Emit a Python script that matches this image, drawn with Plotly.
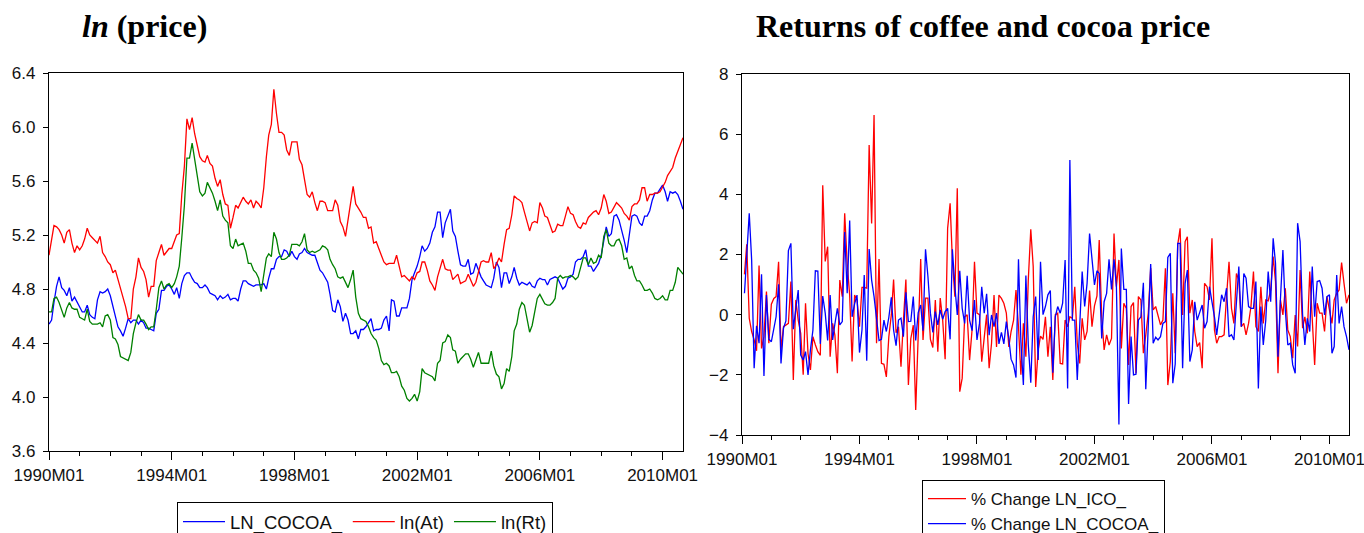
import pandas as pd
import plotly.graph_objects as go

# ---------------- data ----------------
start_month = "1990-01-01"
n_months = 249
months = pd.date_range(start_month, periods=n_months, freq="MS")

tick_labels = ["1990M01", "1994M01", "1998M01", "2002M01", "2006M01", "2010M01"]

ln_cocoa = [
    4.54, 4.57, 4.70, 4.82, 4.89, 4.81, 4.79, 4.75, 4.81, 4.71, 4.74, 4.70,
    4.66, 4.63, 4.63, 4.68, 4.61, 4.59, 4.58, 4.72, 4.78, 4.77, 4.78, 4.80,
    4.75, 4.67, 4.60, 4.52, 4.49, 4.45, 4.51, 4.58, 4.55, 4.57, 4.57, 4.54,
    4.57, 4.55, 4.51, 4.51, 4.50, 4.49, 4.62, 4.65, 4.79, 4.79, 4.82, 4.83,
    4.80, 4.76, 4.81, 4.73, 4.84, 4.90, 4.92, 4.92, 4.88, 4.85, 4.84, 4.81,
    4.81, 4.83, 4.81, 4.77, 4.76, 4.75, 4.72, 4.75, 4.73, 4.74, 4.76, 4.72,
    4.73, 4.73, 4.71, 4.80, 4.86, 4.86, 4.84, 4.83, 4.82, 4.83, 4.83, 4.83,
    4.84, 4.80, 4.88, 4.95, 4.95, 5.02, 5.04, 5.04, 5.09, 5.08, 5.04, 5.08,
    5.04, 5.02, 5.06, 5.07, 5.10, 5.07, 5.06, 5.05, 5.05, 5.00, 4.94, 4.92,
    4.89, 4.85, 4.76, 4.64, 4.63, 4.72, 4.67, 4.56, 4.62, 4.57, 4.47, 4.47,
    4.49, 4.43, 4.50, 4.50, 4.52, 4.55, 4.58, 4.49, 4.50, 4.50, 4.51, 4.57,
    4.60, 4.49, 4.72, 4.71, 4.60, 4.60, 4.66, 4.66, 4.66, 4.73, 4.87, 4.92,
    4.97, 5.04, 5.12, 5.08, 5.10, 5.14, 5.22, 5.26, 5.37, 5.37, 5.18, 5.29,
    5.34, 5.39, 5.23, 5.19, 5.08, 4.98, 4.97, 4.97, 5.02, 4.91, 4.92, 4.99,
    4.94, 4.89, 4.86, 4.83, 4.82, 4.81, 4.88, 5.00, 4.96, 4.81, 4.92, 4.92,
    4.84, 4.89, 4.96, 4.88, 4.83, 4.85, 4.84, 4.83, 4.85, 4.82, 4.81, 4.86,
    4.88, 4.87, 4.87, 4.83, 4.87, 4.88, 4.89, 4.88, 4.84, 4.80, 4.82, 4.88,
    4.89, 4.91, 5.00, 5.02, 5.02, 5.04, 5.09, 4.97, 4.97, 4.93, 4.96, 4.99,
    5.05, 5.16, 5.26, 5.19, 5.21, 5.34, 5.35, 5.31, 5.24, 5.16, 5.07, 5.22,
    5.34, 5.35, 5.34, 5.29, 5.27, 5.34, 5.34, 5.38, 5.46, 5.51, 5.51, 5.54,
    5.57, 5.52, 5.45, 5.52, 5.51, 5.52, 5.50, 5.45, 5.39,
]

ln_at = [
    5.05, 5.18, 5.27, 5.26, 5.24, 5.20, 5.14, 5.22, 5.24, 5.14, 5.07, 5.12,
    5.09, 5.12, 5.17, 5.25, 5.20, 5.18, 5.16, 5.14, 5.19, 5.07, 5.04, 5.00,
    4.98, 4.92, 4.94, 4.87, 4.79, 4.74, 4.67, 4.58, 4.58, 4.80, 4.89, 5.03,
    4.96, 4.93, 4.87, 4.74, 4.82, 4.82, 5.01, 5.07, 5.13, 5.05, 5.08, 5.10,
    5.10, 5.16, 5.20, 5.21, 5.50, 5.71, 6.06, 5.98, 6.07, 5.95, 5.85, 5.78,
    5.75, 5.74, 5.79, 5.73, 5.71, 5.62, 5.56, 5.61, 5.50, 5.43, 5.42, 5.25,
    5.33, 5.42, 5.40, 5.44, 5.48, 5.45, 5.43, 5.46, 5.40, 5.45, 5.43, 5.40,
    5.55, 5.78, 5.94, 6.02, 6.28, 6.10, 5.96, 5.96, 5.94, 5.83, 5.79, 5.89,
    5.89, 5.89, 5.76, 5.72, 5.61, 5.50, 5.48, 5.52, 5.44, 5.38, 5.45, 5.45,
    5.44, 5.38, 5.38, 5.38, 5.46, 5.42, 5.30, 5.26, 5.19, 5.31, 5.46, 5.56,
    5.43, 5.40, 5.37, 5.33, 5.33, 5.25, 5.26, 5.14, 5.15, 5.10, 5.05, 5.00,
    4.98, 4.99, 4.99, 4.99, 5.05, 4.96, 4.89, 4.90, 4.88, 4.86, 4.89, 4.87,
    4.92, 4.93, 5.00, 5.00, 4.94, 4.86, 4.83, 4.79, 4.89, 4.96, 5.02, 4.95,
    4.94, 4.94, 4.87, 4.89, 4.91, 4.84, 4.85, 4.86, 4.91, 4.86, 4.82, 4.85,
    4.93, 5.00, 5.01, 5.00, 5.00, 5.07, 4.95, 4.98, 5.03, 5.00, 5.13, 5.24,
    5.25, 5.35, 5.49, 5.47, 5.46, 5.44, 5.37, 5.30, 5.23, 5.29, 5.30, 5.29,
    5.44, 5.40, 5.34, 5.33, 5.28, 5.22, 5.23, 5.28, 5.27, 5.27, 5.34, 5.41,
    5.36, 5.35, 5.30, 5.26, 5.25, 5.29, 5.28, 5.33, 5.35, 5.37, 5.38, 5.35,
    5.40, 5.50, 5.45, 5.36, 5.37, 5.41, 5.44, 5.42, 5.40, 5.36, 5.34, 5.31,
    5.41, 5.43, 5.43, 5.46, 5.55, 5.55, 5.45, 5.50, 5.50, 5.51, 5.51, 5.52,
    5.55, 5.59, 5.64, 5.67, 5.70, 5.77, 5.82, 5.87, 5.92,
]

ln_rt = [
    4.63, 4.63, 4.73, 4.74, 4.70, 4.64, 4.59, 4.66, 4.70, 4.66, 4.65, 4.65,
    4.59, 4.58, 4.57, 4.65, 4.56, 4.54, 4.54, 4.54, 4.55, 4.52, 4.60, 4.61,
    4.57, 4.44, 4.43, 4.39, 4.30, 4.29, 4.28, 4.27, 4.33, 4.47, 4.55, 4.61,
    4.57, 4.57, 4.54, 4.50, 4.52, 4.52, 4.65, 4.81, 4.86, 4.80, 4.83, 4.84,
    4.81, 4.84, 4.89, 4.97, 5.18, 5.42, 5.77, 5.77, 5.88, 5.76, 5.63, 5.52,
    5.49, 5.51, 5.59, 5.55, 5.51, 5.45, 5.38, 5.46, 5.34, 5.31, 5.29, 5.12,
    5.10, 5.17, 5.12, 5.13, 5.14, 5.08, 4.99, 4.99, 4.94, 4.92, 4.88, 4.78,
    4.92, 5.03, 5.06, 5.04, 5.22, 5.17, 5.07, 5.02, 5.02, 5.03, 5.05, 5.13,
    5.13, 5.13, 5.12, 5.15, 5.21, 5.09, 5.07, 5.08, 5.07, 5.08, 5.09, 5.12,
    5.11, 5.09, 5.02, 4.98, 4.95, 4.89, 4.88, 4.89, 4.85, 4.81, 4.87, 4.94,
    4.74, 4.62, 4.58, 4.57, 4.56, 4.52, 4.47, 4.44, 4.42, 4.36, 4.27, 4.24,
    4.25, 4.23, 4.18, 4.18, 4.19, 4.15, 4.08, 4.05, 3.99, 3.97, 3.99, 4.02,
    3.97, 4.04, 4.21, 4.18, 4.17, 4.16, 4.15, 4.12, 4.25, 4.27, 4.40, 4.41,
    4.46, 4.44, 4.35, 4.34, 4.25, 4.28, 4.30, 4.32, 4.32, 4.28, 4.22, 4.28,
    4.33, 4.25, 4.25, 4.25, 4.25, 4.34, 4.23, 4.17, 4.15, 4.06, 4.10, 4.21,
    4.19, 4.30, 4.49, 4.54, 4.65, 4.70, 4.68, 4.58, 4.48, 4.53, 4.62, 4.73,
    4.76, 4.72, 4.69, 4.68, 4.68, 4.70, 4.73, 4.88, 4.90, 4.88, 4.89, 4.89,
    4.90, 4.89, 4.87, 4.89, 4.95, 5.03, 5.03, 4.98, 5.03, 4.99, 5.00, 5.05,
    5.03, 5.19, 5.24, 5.14, 5.12, 5.12, 5.16, 5.17, 5.12, 5.02, 5.03, 4.95,
    4.97, 4.90, 4.86, 4.86, 4.83, 4.79, 4.79, 4.80, 4.77, 4.73, 4.72, 4.73,
    4.75, 4.72, 4.72, 4.79, 4.79, 4.85, 4.96, 4.93, 4.91,
]

# % changes, from 1990M02 onward
pct_ico = [
    1.34, 2.34, -0.12, -0.56, -0.84, -1.20, 1.63, -1.12, -0.73, 0.77, -0.95, 0.35,
    0.54, 0.60, 1.76, -1.17, -0.40, -0.34, -0.29, 1.10, -2.17, 0.49, -0.18, -0.62,
    -2.00, 0.38, -1.29, -1.84, -0.73, -1.00, -1.23, -1.35, 4.30, 1.77, 2.26, -1.40,
    -0.29, -0.68, -1.95, 1.15, 0.60, 3.37, 1.70, 0.65, -1.56, 0.65, 0.49, -0.40,
    0.91, 0.91, 0.88, 5.64, 3.03, 6.64, -0.95, 1.85, -1.62, -1.65, -2.07, -0.73,
    0.00, 1.17, -0.60, -0.40, -1.73, -0.20, 1.17, -2.34, -0.80, -0.35, -3.17, -0.70,
    1.85, -0.84, 0.55, 0.55, -0.82, -1.09, 0.49, -1.23, 0.55, -0.20, -1.48, 2.87,
    3.70, 1.82, 0.60, 4.20, -2.56, -2.11, -0.07, 0.00, -1.51, -0.50, 1.76, 0.05,
    0.00, -1.56, -0.70, 0.00, -1.78, -0.95, 0.65, -1.07, 0.65, 0.54, 0.38, 0.05,
    -1.07, -0.56, -0.18, 0.82, -0.40, -2.00, -0.29, -1.40, 1.15, 2.84, 1.60, -2.40,
    -1.17, -0.71, -0.82, -0.07, -1.40, -0.40, -2.17, 0.00, 0.05, -1.62, -1.64, -0.18,
    -0.40, -0.07, -0.12, 0.93, -0.95, -1.62, -0.12, -0.84, -0.56, 0.80, -0.40, 0.29,
    0.62, 2.48, -0.07, -1.17, -0.67, -1.01, -0.79, 2.70, 0.93, 1.82, -1.12, 0.38,
    0.21, -1.67, 0.27, 0.40, -1.95, 0.60, 0.49, -1.28, -0.67, 0.05, 1.55, 0.16,
    0.27, -0.07, -0.34, -0.18, 1.54, -2.34, -1.56, 0.71, -1.28, 2.32, 2.87, -0.01,
    2.43, 2.59, 0.05, 0.49, -0.56, -1.06, -0.93, -1.78, 1.04, 0.93, 0.49, 2.54,
    -0.51, -0.95, -0.73, -0.73, -0.67, 0.60, 1.76, 0.21, -0.29, 1.37, 1.15, -0.40,
    -0.29, -0.67, -0.29, 0.27, 1.43, -0.40, -0.56, 0.93, -0.29, 0.49, 0.46, 0.82,
    1.93, 1.10, -1.95, 0.49, -0.01, 0.88, -0.51, -0.73, -1.45, -0.01, -1.06, 1.48,
    -0.45, -0.07, -0.62, 1.43, 0.05, -1.67, 0.38, 0.05, 0.05, -0.56, 0.60, 0.21,
    -0.29, 0.49, 0.71, 0.82, 1.73, 1.04, 0.38, 0.66,
]

pct_cocoa = [
    0.71, 1.93, 3.37, 1.82, -1.78, -0.37, -0.95, 1.34, -2.04, 0.65, -0.82, -0.90,
    -0.51, -0.07, 1.01, -1.62, -0.45, -0.21, 2.13, 2.37, -0.48, 0.18, 0.82, -1.34,
    -1.51, -1.23, -2.00, -1.17, -0.51, 1.46, 1.45, -0.97, 0.62, 0.05, -0.86, 0.65,
    -0.84, -0.31, 0.21, -0.34, -0.23, 2.75, 0.71, 3.13, -0.07, 0.36, 0.65, -1.26,
    -0.51, 1.32, -1.53, 2.18, 1.15, 0.60, -0.07, -0.86, -0.82, -0.18, -0.56, -0.09,
    0.58, -0.51, -1.03, -0.18, -0.12, -0.73, 0.74, -0.23, -0.22, 0.60, -0.86, 0.07,
    0.32, -0.53, 2.17, 1.27, 0.05, -0.59, 0.10, -0.34, 0.16, -0.15, 0.10, 0.21,
    -0.82, 2.17, 0.95, -0.01, 1.46, 0.21, -0.29, 1.29, -0.18, -0.53, 0.49, -0.84,
    -0.29, 0.93, 0.05, 0.69, -0.68, -0.01, -0.40, 0.05, -0.97, -0.59, -0.97, -0.23,
    -0.79, -1.48, -1.67, -2.09, 1.84, -0.90, -2.34, 1.30, -1.00, -2.26, -0.07, 0.60,
    -1.51, 1.76, 0.00, 0.27, 0.66, 0.80, -1.93, -0.07, 0.27, 0.05, 0.38, 1.82,
    -2.45, 5.14, -0.18, -0.18, -2.17, -0.45, 1.43, 0.27, 1.04, 2.70, 1.71, 0.99,
    1.46, 1.37, -0.79, 0.43, 0.71, 1.84, 0.84, 1.84, 0.93, -3.65, 2.20, 0.84,
    0.84, -2.97, -0.73, -2.00, -1.98, -0.18, -0.07, 1.06, -2.48, -0.18, 1.68, -0.95,
    -0.75, -0.84, -0.73, -0.29, -0.23, 1.90, 2.04, -2.28, -1.64, 2.37, 2.37, -1.78,
    1.04, 1.48, -1.56, -1.17, 0.43, -0.18, 0.05, 0.32, -0.45, -0.23, 0.93, 0.49,
    -0.07, -0.67, -0.07, 0.66, 0.43, 0.88, -0.73, -0.67, -0.84, 0.27, 1.60, -0.40,
    1.37, 1.21, 0.27, 0.21, 0.21, 1.10, -2.45, 0.27, -1.01, -0.18, 1.43, 0.43,
    2.54, 1.71, -1.40, 0.49, 2.15, 0.16, -1.01, -0.95, -1.67, -1.95, 3.04, 2.43,
    -0.01, -1.01, -0.12, -0.56, 1.60, -0.07, 1.10, 1.13, 0.88, -0.01, 0.60, 0.66,
    -1.28, -1.06, 1.32, -0.29, 0.27, -0.40, -0.73, -1.17,
]

# ---------------- figure ----------------
W, H = 1364, 533
tick_dates = [pd.Timestamp(int(t[:4]), int(t[5:7]), 1) for t in tick_labels]
ret_months = months[1:]

SANS = "Liberation Sans, Arial, sans-serif"
SERIF = "Liberation Serif, Times New Roman, serif"

fig = go.Figure()
lw = 1.3
fig.add_trace(go.Scatter(x=months, y=ln_cocoa, mode="lines", name="LN_COCOA_",
                         line=dict(color="#0000ff", width=lw), xaxis="x", yaxis="y", legend="legend"))
fig.add_trace(go.Scatter(x=months, y=ln_at, mode="lines", name="ln(At)",
                         line=dict(color="#ff0000", width=lw), xaxis="x", yaxis="y", legend="legend"))
fig.add_trace(go.Scatter(x=months, y=ln_rt, mode="lines", name="ln(Rt)",
                         line=dict(color="#008000", width=lw), xaxis="x", yaxis="y", legend="legend"))
fig.add_trace(go.Scatter(x=ret_months, y=pct_ico, mode="lines", name="% Change LN_ICO_",
                         line=dict(color="#ff0000", width=lw), xaxis="x2", yaxis="y2", legend="legend2"))
fig.add_trace(go.Scatter(x=ret_months, y=pct_cocoa, mode="lines", name="% Change LN_COCOA_",
                         line=dict(color="#0000ff", width=lw), xaxis="x2", yaxis="y2", legend="legend2"))

tickfont = dict(family=SANS, size=17, color="#111")


def xaxis_cfg(domain, anchor):
    return dict(
        domain=domain, anchor=anchor, type="date",
        range=[months[0], months[-1]],
        tickmode="array", tickvals=tick_dates, ticktext=tick_labels,
        ticks="outside", ticklen=8, tickwidth=1, tickcolor="#000",
        ticklabeloverflow="allow",
        minor=dict(tickmode="linear", tick0="1990-01-01", dtick="M12",
                   ticks="outside", ticklen=4, tickwidth=1, tickcolor="#000", showgrid=False),
        showline=True, linecolor="#000", linewidth=1.3, mirror=True,
        showgrid=False, zeroline=False, tickfont=tickfont,
    )


def yaxis_cfg(domain, anchor, rng, tick0, dtick, fmt):
    return dict(
        domain=domain, anchor=anchor, range=rng,
        tickmode="linear", tick0=tick0, dtick=dtick, tickformat=fmt,
        ticks="outside", ticklen=5, tickwidth=1, tickcolor="#000",
        ticklabelstandoff=4,
        showline=True, linecolor="#000", linewidth=1.3, mirror=True,
        showgrid=False, zeroline=False, tickfont=tickfont,
    )


fig.update_layout(
    width=W, height=H, autosize=False,
    margin=dict(l=0, r=0, t=0, b=0, autoexpand=False),
    paper_bgcolor="white", plot_bgcolor="white",
    font=dict(family=SANS, size=17, color="#111"),
    xaxis=xaxis_cfg([49 / W, 683 / W], "y"),
    yaxis=yaxis_cfg([1 - 451 / H, 1 - 73 / H], "x", [3.6, 6.4], 3.6, 0.4, ".1f"),
    xaxis2=xaxis_cfg([742 / W, 1349 / W], "y2"),
    yaxis2=yaxis_cfg([1 - 435 / H, 1 - 74 / H], "x2", [-4, 8], -4, 2, "d"),
    legend=dict(orientation="h", x=177 / W, y=1 - 502 / H, xanchor="left", yanchor="top",
                bordercolor="#000", borderwidth=1, bgcolor="white", itemwidth=42,
                font=dict(family=SANS, size=18.5, color="#111")),
    legend2=dict(orientation="v", x=922 / W, y=1 - 480 / H, xanchor="left", yanchor="top",
                 bordercolor="#000", borderwidth=1, bgcolor="white", itemwidth=38,
                 font=dict(family=SANS, size=17, color="#111"), tracegroupgap=0),
    showlegend=True,
    annotations=[
        dict(text="<b><i>ln</i> (price)</b>", x=80 / W, y=1 - 26 / H, xref="paper", yref="paper",
             xanchor="left", yanchor="middle", showarrow=False,
             font=dict(family=SERIF, size=32, color="#000")),
        dict(text="<b>Returns of coffee and cocoa price</b>", x=754 / W, y=1 - 26 / H,
             xref="paper", yref="paper", xanchor="left", yanchor="middle", showarrow=False,
             font=dict(family=SERIF, size=32, color="#000")),
    ],
)

fig.write_html("out.html")
